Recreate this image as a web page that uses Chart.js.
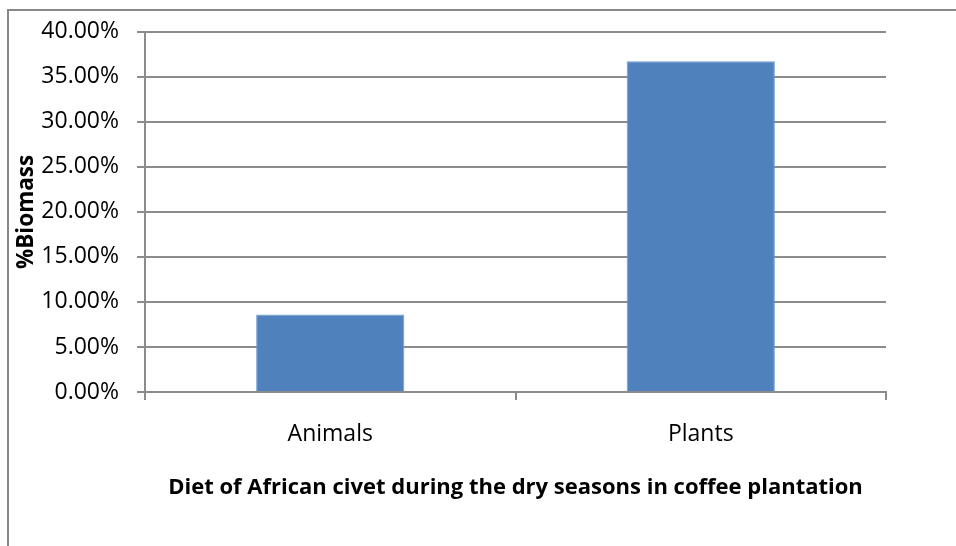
<!DOCTYPE html>
<html>
<head>
<meta charset="utf-8">
<script src="https://cdn.jsdelivr.net/npm/chart.js@4"></script>
<style>
  body { margin: 0; background: #fff; }
  canvas { display: block; }
</style>
</head>
<body>
<canvas id="chart" width="956" height="546"></canvas>
<script>
// Diet of African civet - % biomass per food type
const categories = ['Animals', 'Plants'];
const biomass = [8.61, 36.72];
const yTicks = [0, 5, 10, 15, 20, 25, 30, 35, 40];

const gridGrey = '#8c8c8c';
const font = 'Open Sans';

// outer frame like the spreadsheet chart border
const framePlugin = {
    id: 'frame',
    afterDraw(chart) {
        const ctx = chart.ctx;
        ctx.save();
        ctx.strokeStyle = '#888888';
        ctx.lineWidth = 2;
        ctx.beginPath();
        ctx.moveTo(8, 546);
        ctx.lineTo(8, 10);
        ctx.lineTo(956, 10);
        ctx.stroke();
        ctx.restore();
    }
};

const ctx = document.getElementById('chart').getContext('2d');
new Chart(ctx, {
    type: 'bar',
    data: {
        labels: categories,
        datasets: [{
            label: '%Biomass',
            data: biomass,
            backgroundColor: '#4f81bd',
            borderColor: '#6f9ad0',
            borderWidth: 1,
            categoryPercentage: 1,
            barPercentage: 0.4
        }]
    },
    options: {
        responsive: false,
        animation: false,
        layout: { padding: { top: 26, right: 70, bottom: 0, left: 0 } },
        plugins: {
            legend: { display: false },
            tooltip: { enabled: false }
        },
        scales: {
            x: {
                afterFit: (scale) => { scale.height = 154; },
                grid: {
                    offset: true,
                    drawOnChartArea: false,
                    color: gridGrey,
                    lineWidth: 2,
                    tickLength: 8
                },
                border: { color: gridGrey, width: 2 },
                ticks: {
                    color: '#000',
                    padding: 21,
                    font: { family: font, size: 23 }
                },
                title: {
                    display: true,
                    text: 'Diet of African civet during the dry seasons in coffee plantation',
                    color: '#000',
                    padding: { top: 0, bottom: 45 },
                    font: { family: font, size: 22, weight: 'bold' }
                }
            },
            y: {
                min: 0,
                max: 40,
                afterFit: (scale) => { scale.width = 145; },
                afterBuildTicks: (scale) => {
                    scale.ticks = yTicks.map(v => ({ value: v }));
                },
                grid: {
                    color: gridGrey,
                    lineWidth: 2,
                    tickLength: 8
                },
                border: { color: gridGrey, width: 2 },
                ticks: {
                    color: '#000',
                    padding: 18,
                    font: { family: font, size: 23 },
                    callback: (v) => v.toFixed(2) + '%'
                },
                title: {
                    display: true,
                    text: '%Biomass',
                    color: '#000',
                    padding: { top: 13, bottom: 0 },
                    font: { family: font, size: 22.5, weight: 'bold' }
                }
            }
        }
    },
    plugins: [framePlugin]
});
</script>
</body>
</html>
